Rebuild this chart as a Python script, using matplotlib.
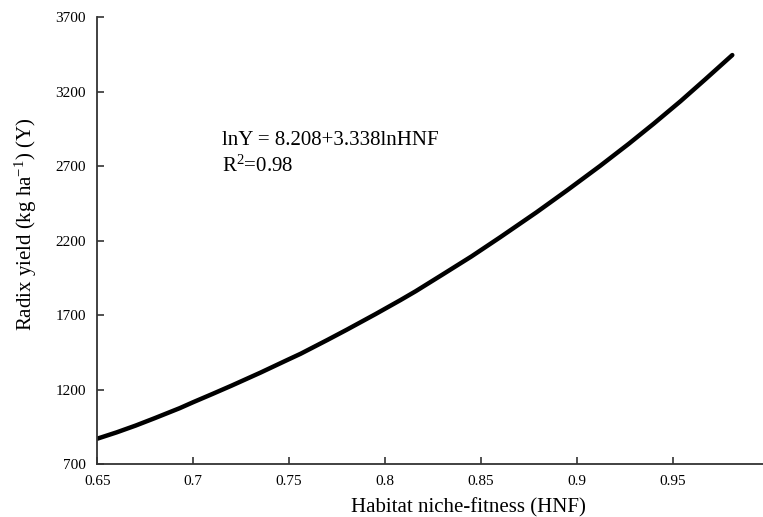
import matplotlib
matplotlib.use("Agg")
import matplotlib.pyplot as plt

# values
hnf = [0.650, 0.660, 0.670, 0.680, 0.693, 0.700, 0.710, 0.720, 0.735,
       0.749, 0.756, 0.770, 0.780, 0.795, 0.808, 0.816, 0.830, 0.845,
       0.860, 0.879, 0.895, 0.912, 0.927, 0.940, 0.954, 0.967, 0.981]
yield_kg = [870, 912, 958, 1008, 1075, 1115, 1170, 1226, 1313,
            1398, 1440, 1533, 1601, 1706, 1800, 1860, 1972, 2093,
            2222, 2390, 2538, 2700, 2849, 2984, 3135, 3283, 3445]

x_ticks = [0.65, 0.7, 0.75, 0.8, 0.85, 0.9, 0.95]
x_tick_labels = ["0.65", "0.7", "0.75", "0.8", "0.85", "0.9", "0.95"]
y_ticks = [700, 1200, 1700, 2200, 2700, 3200, 3700]

plt.rcParams['font.family'] = ['Liberation Serif', 'DejaVu Serif']
plt.rcParams['mathtext.fontset'] = 'custom'
plt.rcParams['mathtext.rm'] = 'Liberation Serif'
plt.rcParams['mathtext.it'] = 'Liberation Serif:italic'

fig = plt.figure(figsize=(7.63, 5.17), dpi=100)
ax = fig.add_axes([0.1275, 0.1025, 0.8725, 0.8645])

ax.plot(hnf, yield_kg, color='black', lw=3.2, solid_capstyle='round',
        solid_joinstyle='round')

ax.set_xlim(0.65, 0.997)
ax.set_ylim(700, 3700)
ax.set_xticks(x_ticks)
ax.set_xticklabels(x_tick_labels)
ax.set_yticks(y_ticks)

for side in ['top', 'right']:
    ax.spines[side].set_visible(False)
for side in ['left', 'bottom']:
    ax.spines[side].set_color('#333333')
    ax.spines[side].set_linewidth(1.3)

ax.tick_params(direction='in', length=5, width=1.2, color='#333333',
               labelsize=11, pad=8)

ax.set_xlabel("Habitat niche-fitness (HNF)", fontsize=15)
ax.set_ylabel("Radix yield (kg ha$^{-1}$) (Y)", fontsize=15)
ax.xaxis.set_label_coords(0.557, -0.076)
ax.yaxis.set_label_coords(-0.088, 0.537)

ax.text(0.715, 2874, "lnY = 8.208+3.338lnHNF", fontsize=15, va='center')
ax.text(0.715, 2700, "R$^{2}$=0.98", fontsize=15, va='center')

fig.savefig("out.png", dpi=100)
plt.close(fig)
